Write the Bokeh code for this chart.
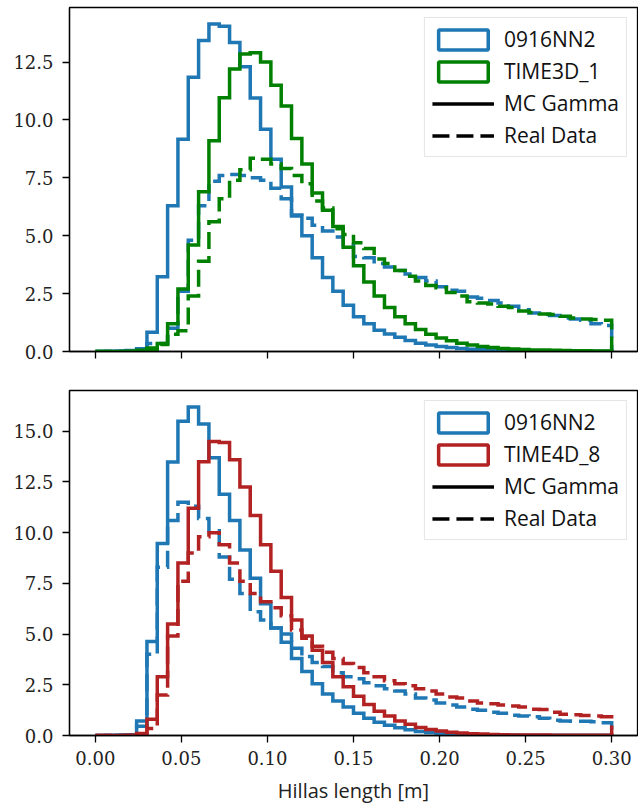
import numpy as np
from bokeh.plotting import figure
from bokeh.models import Range1d, FixedTicker, Legend, LegendItem
from bokeh.layouts import column
from bokeh.embed import file_html
from bokeh.resources import INLINE

# ---------------- data ----------------
BIN_EDGES = np.linspace(0.0, 0.30, 51)   # 50 bins of Hillas length [m]

X_TICKS = [0.0, 0.05, 0.10, 0.15, 0.20, 0.25, 0.30]
X_TICK_LABELS = ["0.00", "0.05", "0.10", "0.15", "0.20", "0.25", "0.30"]
TOP_Y_TICKS = [0.0, 2.5, 5.0, 7.5, 10.0, 12.5]
TOP_Y_TICK_LABELS = ["0.0", "2.5", "5.0", "7.5", "10.0", "12.5"]
BOT_Y_TICKS = [0.0, 2.5, 5.0, 7.5, 10.0, 12.5, 15.0]
BOT_Y_TICK_LABELS = ["0.0", "2.5", "5.0", "7.5", "10.0", "12.5", "15.0"]

LABEL_NN2 = "0916NN2"
LABEL_T3D = "TIME3D_1"
LABEL_T4D = "TIME4D_8"
LABEL_MC = "MC Gamma"
LABEL_REAL = "Real Data"
X_LABEL = "Hillas length [m]"

# top panel
top_nn2_mc = [0.0, 0.01, 0.02, 0.04, 0.12, 0.83, 3.23, 6.29, 9.17, 11.85,
              13.43, 14.15, 14.05, 13.35, 12.3, 10.95, 9.6, 8.3, 7.1, 5.85,
              5.0, 4.05, 3.2, 2.6, 2.0, 1.5, 1.2, 0.92, 0.76, 0.62,
              0.48, 0.36, 0.28, 0.22, 0.17, 0.13, 0.1, 0.08, 0.06, 0.05,
              0.04, 0.03, 0.03, 0.02, 0.02, 0.01, 0.01, 0.01, 0.01, 0.01]
top_nn2_real = [0.0, 0.0, 0.01, 0.03, 0.1, 0.35, 0.35, 1.0, 2.6, 4.8,
                6.3, 7.35, 7.6, 7.65, 7.6, 7.5, 7.4, 7.05, 6.6, 5.9,
                5.75, 5.45, 5.2, 4.95, 4.6, 4.1, 4.05, 3.8, 3.65, 3.5,
                3.35, 3.2, 3.05, 2.8, 2.65, 2.6, 2.35, 2.3, 2.2, 2.1,
                1.95, 1.8, 1.66, 1.6, 1.55, 1.45, 1.4, 1.35, 1.2, 1.12]
top_t3d_mc = [0.0, 0.0, 0.0, 0.01, 0.05, 0.15, 0.35, 1.2, 2.7, 4.6,
              6.9, 9.1, 10.96, 12.2, 12.85, 12.9, 12.5, 11.5, 10.6, 9.2,
              8.1, 6.85, 6.1, 5.4, 4.5, 3.7, 3.0, 2.4, 1.9, 1.5,
              1.2, 0.95, 0.75, 0.58, 0.46, 0.36, 0.28, 0.22, 0.17, 0.13,
              0.11, 0.09, 0.07, 0.06, 0.05, 0.04, 0.03, 0.03, 0.02, 0.02]
top_t3d_real = [0.0, 0.0, 0.0, 0.0, 0.02, 0.1, 0.3, 0.75, 0.9, 2.4,
                3.9, 5.6, 6.6, 7.4, 7.85, 8.35, 8.3, 8.1, 7.9, 7.6,
                7.25, 6.5, 6.2, 5.3, 5.05, 4.7, 4.45, 4.0, 3.8, 3.5,
                3.25, 3.05, 2.85, 2.75, 2.55, 2.4, 2.15, 2.1, 2.05, 1.95,
                1.9, 1.75, 1.68, 1.62, 1.6, 1.52, 1.45, 1.4, 1.38, 1.35]

# bottom panel
bot_nn2_mc = [0.0, 0.01, 0.02, 0.03, 0.71, 4.64, 9.47, 13.48, 15.5, 16.2,
              15.36, 13.7, 11.9, 10.6, 9.14, 7.75, 6.5, 5.3, 4.6, 3.8,
              3.15, 2.55, 2.05, 1.7, 1.4, 1.1, 0.85, 0.65, 0.5, 0.38,
              0.28, 0.2, 0.15, 0.11, 0.08, 0.06, 0.05, 0.04, 0.03, 0.02,
              0.02, 0.01, 0.01, 0.01, 0.01, 0.01, 0.01, 0.01, 0.01, 0.01]
bot_nn2_real = [0.0, 0.0, 0.01, 0.02, 0.45, 4.0, 8.3, 10.6, 11.5, 11.3,
                10.7, 10.1, 8.8, 7.7, 7.0, 6.1, 5.7, 5.3, 5.0, 4.3,
                3.9, 3.6, 3.4, 3.1, 2.9, 2.8, 2.6, 2.45, 2.3, 2.2,
                2.05, 1.85, 1.75, 1.6, 1.5, 1.4, 1.3, 1.25, 1.15, 1.1,
                1.0, 0.96, 0.93, 0.85, 0.75, 0.72, 0.7, 0.7, 0.68, 0.63]
bot_t4d_mc = [0.0, 0.0, 0.0, 0.01, 0.1, 0.8, 2.9, 5.5, 8.5, 11.2,
              13.5, 14.5, 14.45, 13.6, 12.25, 10.85, 9.4, 8.1, 6.8, 5.7,
              4.9, 4.2, 3.6, 2.9, 2.4, 1.94, 1.53, 1.2, 0.96, 0.71,
              0.55, 0.4, 0.3, 0.22, 0.16, 0.12, 0.09, 0.07, 0.05, 0.04,
              0.03, 0.03, 0.02, 0.02, 0.01, 0.01, 0.01, 0.01, 0.01, 0.01]
bot_t4d_real = [0.0, 0.0, 0.0, 0.0, 0.02, 0.35, 2.0, 4.9, 7.6, 9.0,
                9.8, 10.0, 9.4, 8.5, 7.6, 7.0, 6.6, 6.3, 5.9, 5.2,
                4.8, 4.4, 4.1, 3.8, 3.55, 3.35, 3.1, 2.9, 2.7, 2.55,
                2.45, 2.3, 2.2, 2.05, 1.9, 1.85, 1.7, 1.6, 1.56, 1.5,
                1.45, 1.4, 1.3, 1.28, 1.15, 1.05, 1.02, 0.98, 0.96, 0.92]

# ---------------- style ----------------
BLUE = "#1f77b4"
GREEN = "#008000"
RED = "#b22222"
LW = 3.5
DASH = "17 7"
TICK_FONT = "DejaVu Serif"
SANS = "Open Sans"
NAN = float("nan")


def step_xy(vals):
    xs = [BIN_EDGES[0]]
    ys = [0.0]
    for i, v in enumerate(vals):
        xs += [BIN_EDGES[i], BIN_EDGES[i + 1]]
        ys += [v, v]
    xs.append(BIN_EDGES[-1])
    ys.append(0.0)
    return xs, ys


def make_panel(height, border_top, border_bottom, series, ymax, yticks, ylabels,
               alt_label, alt_color, x_range=None, show_xlabels=False):
    p = figure(width=638, height=height,
               x_range=x_range if x_range is not None else Range1d(-0.015, 0.315),
               y_range=Range1d(0, ymax),
               output_backend="svg", toolbar_location=None,
               min_border_left=69, min_border_right=1,
               min_border_top=border_top, min_border_bottom=border_bottom)
    p.grid.visible = False
    p.outline_line_color = "black"
    p.outline_line_width = 1.3
    p.outline_line_alpha = 1.0
    p.background_fill_color = "white"
    p.border_fill_color = "white"

    for vals, color, dashed in series:
        xs, ys = step_xy(vals)
        p.line(xs, ys, line_color=color, line_width=LW, line_join="miter",
               line_dash=DASH if dashed else "solid")

    for ax in (p.xaxis[0], p.yaxis[0]):
        ax.axis_line_color = "black"
        ax.axis_line_width = 1.3
        ax.major_tick_line_color = "black"
        ax.major_tick_line_width = 1.3
        ax.major_tick_out = 7
        ax.major_tick_in = 0
        ax.minor_tick_line_color = None
        ax.major_label_text_font = TICK_FONT
        ax.major_label_text_font_size = "18px"
        ax.major_label_text_color = "#222222"

    p.yaxis.ticker = FixedTicker(ticks=yticks)
    p.yaxis.major_label_overrides = {t: l for t, l in zip(yticks, ylabels)}
    p.yaxis.major_label_standoff = 9

    p.xaxis.ticker = FixedTicker(ticks=X_TICKS)
    if show_xlabels:
        p.xaxis.major_label_overrides = {t: l for t, l in zip(X_TICKS, X_TICK_LABELS)}
        p.xaxis.major_label_standoff = 8
        p.xaxis.axis_label = X_LABEL
        p.xaxis.axis_label_text_font = SANS
        p.xaxis.axis_label_text_font_size = "20px"
        p.xaxis.axis_label_text_font_style = "normal"
        p.xaxis.axis_label_text_color = "#222222"
        p.xaxis.axis_label_standoff = 9
    else:
        p.xaxis.major_label_text_font_size = "0px"
        p.xaxis.major_label_text_color = None
        p.xaxis.major_label_standoff = 0

    # legend proxies (not visible in the plot area)
    r_nn2 = p.quad(left=[NAN], right=[NAN], top=[NAN], bottom=[NAN], fill_alpha=0,
                   line_color=BLUE, line_width=LW)
    r_alt = p.quad(left=[NAN], right=[NAN], top=[NAN], bottom=[NAN], fill_alpha=0,
                   line_color=alt_color, line_width=LW)
    r_mc = p.line(x=[NAN], y=[NAN], line_color="black", line_width=LW)
    r_real = p.line(x=[NAN], y=[NAN], line_color="black", line_width=LW, line_dash=DASH)
    leg = Legend(items=[LegendItem(label=LABEL_NN2, renderers=[r_nn2]),
                        LegendItem(label=alt_label, renderers=[r_alt]),
                        LegendItem(label=LABEL_MC, renderers=[r_mc]),
                        LegendItem(label=LABEL_REAL, renderers=[r_real])],
                 location="top_right", margin=10, padding=7, spacing=4,
                 glyph_width=62, glyph_height=25, label_height=25,
                 label_standoff=10,
                 label_text_font=SANS, label_text_font_size="21px",
                 label_text_color="#111111",
                 border_line_color="#cccccc", border_line_width=1.2,
                 background_fill_color="white", background_fill_alpha=1.0)
    p.add_layout(leg)
    return p


top_series = [(top_nn2_mc, BLUE, False), (top_nn2_real, BLUE, True),
              (top_t3d_mc, GREEN, False), (top_t3d_real, GREEN, True)]
bot_series = [(bot_nn2_mc, BLUE, False), (bot_nn2_real, BLUE, True),
              (bot_t4d_mc, RED, False), (bot_t4d_real, RED, True)]

top_max = max(max(s[0]) for s in top_series) * 1.05
bot_max = max(max(s[0]) for s in bot_series) * 1.05

p1 = make_panel(371, 7, 20, top_series, top_max, TOP_Y_TICKS, TOP_Y_TICK_LABELS,
                LABEL_T3D, GREEN)
p2 = make_panel(438, 19, 74, bot_series, bot_max, BOT_Y_TICKS, BOT_Y_TICK_LABELS,
                LABEL_T4D, RED, x_range=p1.x_range, show_xlabels=True)

layout = column(p1, p2, spacing=0)
open("out.html", "w").write(file_html(layout, INLINE))
